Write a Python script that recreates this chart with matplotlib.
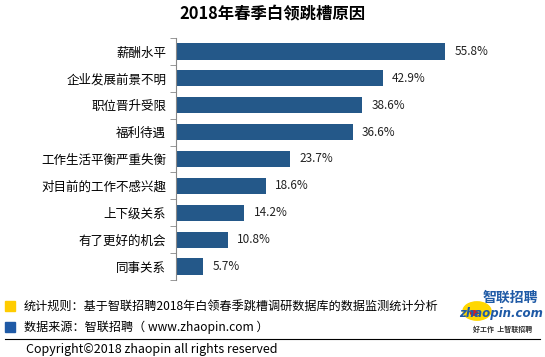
import matplotlib.pyplot as plt
from matplotlib.patches import Rectangle, Circle
import numpy as np

plt.rcParams['font.family'] = ['Noto Sans CJK SC', 'DejaVu Sans']

categories = ['薪酬水平', '企业发展前景不明', '职位晋升受限', '福利待遇', '工作生活平衡严重失衡',
              '对目前的工作不感兴趣', '上下级关系', '有了更好的机会', '同事关系']
values = [55.8, 42.9, 38.6, 36.6, 23.7, 18.6, 14.2, 10.8, 5.7]

W, H = 545, 357
fig = plt.figure(figsize=(W / 100, H / 100), dpi=100)

# axes in pixel coords
left, right, top, bottom = 176, 475, 38, 280
ax = fig.add_axes([left / W, 1 - bottom / H, (right - left) / W, (bottom - top) / H])

y = np.arange(len(categories))
ax.barh(y, values, height=0.6, color='#245889')
for yi, v in zip(y, values):
    ax.text(v + 1.9, yi, f'{v}%', va='center', ha='left', fontsize=8.5, color='#222222')

ax.set_xlim(0, 62)
ax.set_ylim(len(categories) - 0.5, -0.5)
ax.set_yticks(y)
ax.set_yticklabels(categories, fontsize=9)
ax.set_yticks(np.arange(-0.5, len(categories), 1), minor=True)
ax.tick_params(axis='y', which='major', length=0, pad=7)
ax.tick_params(axis='y', which='minor', length=4, color='#888888')
ax.set_xticks([])
for s in ['top', 'right', 'bottom']:
    ax.spines[s].set_visible(False)
ax.spines['left'].set_color('#888888')

fig.text(0.5, 1 - 14 / H, '2018年春季白领跳槽原因', ha='center', va='center',
         fontsize=11.8, fontweight='bold')

# footer
fig.patches.append(Rectangle((5 / W, 1 - 311 / H), 10 / W, 10 / H, transform=fig.transFigure,
                             color='#FFCC00'))
fig.patches.append(Rectangle((5 / W, 1 - 332 / H), 10 / W, 10 / H, transform=fig.transFigure,
                             color='#1F5AA6'))
fig.text(24 / W, 1 - 306 / H, '统计规则：基于智联招聘2018年白领春季跳槽调研数据库的数据监测统计分析',
         va='center', fontsize=8.7)
fig.text(24 / W, 1 - 327 / H, '数据来源：智联招聘（ www.zhaopin.com ）', va='center', fontsize=8.7)
fig.add_artist(plt.Line2D([5 / W, 540 / W], [1 - 339 / H, 1 - 339 / H], color='black', lw=0.8))
fig.text(26 / W, 1 - 349 / H, 'Copyright©2018 zhaopin all rights reserved', va='center',
         fontsize=9)

# logo
fig.patches.append(Circle((477 / W, 1 - 311 / H), 14 / W, transform=fig.transFigure,
                          color='#FFD700', zorder=0))
fig.patches.append(Circle((474 / W, 1 - 313 / H), 3.5 / W, transform=fig.transFigure,
                          color='#D42020', zorder=1))
fig.text(510 / W, 1 - 298 / H, '智联招聘', ha='center', va='center', fontsize=10,
         fontweight='bold', color='#1F5AA6', style='italic')
fig.text(501 / W, 1 - 313 / H, 'zhaopin.com', ha='center', va='center', fontsize=8.5,
         fontweight='bold', color='#1F5AA6', family='DejaVu Sans', style='italic')
fig.text(503 / W, 1 - 329 / H, '好工作  上智联招聘', ha='center', va='center', fontsize=5,
         fontweight='bold', color='#333333')

fig.savefig('out.png', dpi=100)
